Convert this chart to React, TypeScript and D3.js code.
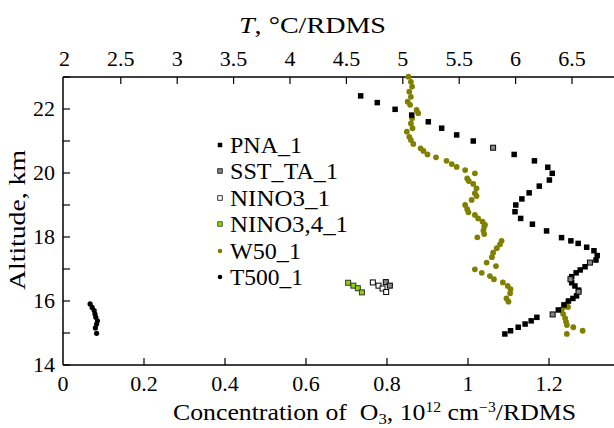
import React from "react";
import * as d3 from "d3";

// [O3 concentration, altitude km]
const pna: [number, number][] = [
  [0.735, 22.41], [0.776, 22.2], [0.82, 21.99], [0.861, 21.81], [0.902, 21.6], [0.935, 21.4],
  [0.972, 21.19], [1.013, 21.0], [1.114, 20.58], [1.164, 20.38], [1.197, 20.18], [1.208, 19.99],
  [1.201, 19.78], [1.176, 19.59], [1.151, 19.38], [1.133, 19.19], [1.118, 19.0], [1.116, 18.79],
  [1.13, 18.58], [1.159, 18.4], [1.194, 18.19], [1.231, 17.98], [1.254, 17.88], [1.272, 17.8],
  [1.293, 17.68], [1.311, 17.57], [1.319, 17.42], [1.316, 17.28], [1.289, 17.07], [1.277, 16.97],
  [1.267, 16.88], [1.256, 16.76], [1.256, 16.57], [1.264, 16.47], [1.273, 16.34], [1.268, 16.16],
  [1.259, 16.08], [1.248, 16.0], [1.237, 15.88], [1.223, 15.72], [1.17, 15.49], [1.156, 15.38],
  [1.141, 15.28], [1.124, 15.18], [1.105, 15.07], [1.091, 14.97],
];
const sstTa: [number, number][] = [
  [1.062, 20.79], [1.301, 17.2], [1.253, 16.68], [1.273, 16.29], [1.209, 15.58],
  [0.797, 16.59], [0.807, 16.48],
];
const nino3: [number, number][] = [
  [0.765, 16.58], [0.779, 16.48], [0.789, 16.39], [0.798, 16.28],
];
const nino34: [number, number][] = [
  [0.704, 16.57], [0.717, 16.48], [0.728, 16.4], [0.738, 16.27],
];
const w50: [number, number][] = [
  [0.853, 23.01], [0.859, 22.85], [0.862, 22.7], [0.855, 22.54], [0.859, 22.38], [0.851, 22.23],
  [0.857, 22.13], [0.873, 21.97], [0.877, 21.87], [0.862, 21.71], [0.859, 21.55], [0.863, 21.4],
  [0.849, 21.29], [0.855, 21.13], [0.859, 21.03], [0.865, 20.91], [0.883, 20.77], [0.89, 20.69],
  [0.9, 20.58], [0.921, 20.49], [0.947, 20.38], [0.96, 20.28], [0.972, 20.19], [0.993, 20.09],
  [1.017, 19.99], [0.998, 19.83], [1.002, 19.75], [1.013, 19.66], [1.021, 19.52], [1.017, 19.37],
  [1.021, 19.28], [1.009, 19.16], [0.993, 19.0], [0.998, 18.87], [1.001, 18.77], [1.017, 18.69],
  [1.025, 18.58], [1.036, 18.48], [1.042, 18.38], [1.04, 18.32], [1.038, 18.2], [1.04, 18.09],
  [1.023, 17.99], [1.083, 17.88], [1.079, 17.77], [1.071, 17.65], [1.062, 17.51], [1.059, 17.37],
  [1.046, 17.2], [1.069, 17.09], [1.017, 16.99], [1.034, 16.88], [1.054, 16.78], [1.064, 16.68],
  [1.086, 16.58], [1.098, 16.47], [1.105, 16.37], [1.104, 16.24], [1.095, 16.08], [1.1, 15.98],
  [1.244, 15.91], [1.247, 15.81], [1.237, 15.82], [1.231, 15.72], [1.235, 15.59], [1.24, 15.46],
  [1.242, 15.35], [1.244, 15.25], [1.26, 15.18], [1.283, 15.07], [1.244, 14.97],
];
const t500: [number, number][] = [
  [0.067, 15.91], [0.072, 15.8], [0.077, 15.7], [0.079, 15.59], [0.081, 15.49],
  [0.085, 15.38], [0.083, 15.28], [0.08, 15.16], [0.083, 14.99],
];

const bottomTicks = [0, 0.2, 0.4, 0.6, 0.8, 1, 1.2];
const topTicks = [2, 2.5, 3, 3.5, 4, 4.5, 5, 5.5, 6, 6.5];
const leftTicks = [14, 15, 16, 17, 18, 19, 20, 21, 22, 23];
const leftLabels = [14, 16, 18, 20, 22];
const legendNames = ["PNA_1", "SST_TA_1", "NINO3_1", "NINO3,4_1", "W50_1", "T500_1"];

const FONT = "Liberation Serif, DejaVu Serif, serif";

export default function App() {
  const W = 614, H = 428;
  const left = 63, top = 77, bottom = 365;
  const x = d3.scaleLinear().domain([0, 1.4]).range([left, left + 1.4 * 405]);
  const xt = d3.scaleLinear().domain([2, 7]).range([64.4, 64.4 + 5 * 112.8]);
  const y = d3.scaleLinear().domain([14, 23]).range([bottom, top]);
  const right = W + 5;

  const sq = (d: [number, number], i: number, s: number, fill: string, stroke: string, sw: number) => (
    <rect key={i} x={x(d[0]) - s / 2} y={y(d[1]) - s / 2} width={s} height={s}
      fill={fill} stroke={stroke} strokeWidth={sw} />
  );

  const legendY = [145, 171, 198, 224, 251, 277];
  const legendW = [72, 108, 100, 118, 71, 73];
  const legendMarker = (i: number) => {
    const cy = legendY[i];
    const cx = 220;
    const s = 4.5;
    if (i === 0) return <rect x={cx - s / 2} y={cy - s / 2} width={s} height={s} fill="#000" />;
    if (i === 1) return <rect x={cx - s / 2} y={cy - s / 2} width={s} height={s} fill="#888" stroke="#000" strokeWidth={0.8} />;
    if (i === 2) return <rect x={cx - s / 2} y={cy - s / 2} width={s} height={s} fill="#fff" stroke="#000" strokeWidth={0.8} />;
    if (i === 3) return <rect x={cx - s / 2} y={cy - s / 2} width={s} height={s} fill="#8fd400" stroke="#333" strokeWidth={0.8} />;
    if (i === 4) return <circle cx={cx} cy={cy} r={2.3} fill="#808000" />;
    return <circle cx={cx} cy={cy} r={2.3} fill="#000" />;
  };

  return (
    <svg width={W} height={H} style={{ position: "absolute", left: 0, top: 0, background: "#fff", fontFamily: FONT }}>
      <rect width={W} height={H} fill="#fff" />
      {/* axes lines */}
      <line x1={left} y1={top} x2={left} y2={bottom} stroke="#000" strokeWidth={1.5} />
      <line x1={left} y1={bottom} x2={right} y2={bottom} stroke="#000" strokeWidth={1.5} />
      <line x1={left} y1={top} x2={right} y2={top} stroke="#000" strokeWidth={1.5} />
      {/* left ticks */}
      {leftTicks.map((t) => (
        <line key={"lt" + t} x1={left} x2={left + 7} y1={y(t)} y2={y(t)} stroke="#000" strokeWidth={1.2} />
      ))}
      {leftLabels.map((t) => (
        <text key={"ll" + t} x={55} y={y(t) + 7} textAnchor="end" fontSize={22}>{t}</text>
      ))}
      {/* bottom ticks */}
      {bottomTicks.map((t) => (
        <g key={"bt" + t}>
          {t > 0 && <line x1={x(t)} x2={x(t)} y1={bottom} y2={bottom - 7} stroke="#000" strokeWidth={1.2} />}
          <text x={x(t)} y={391} textAnchor="middle" fontSize={22}>{t}</text>
        </g>
      ))}
      {/* top ticks */}
      {topTicks.map((t) => (
        <g key={"tt" + t}>
          {t > 2 && <line x1={xt(t)} x2={xt(t)} y1={top} y2={top + 7} stroke="#000" strokeWidth={1.2} />}
          <text x={xt(t)} y={66} textAnchor="middle" fontSize={22}>{t}</text>
        </g>
      ))}
      {/* titles */}
      <text x={239} y={33} fontSize={24} textLength={147} lengthAdjust="spacingAndGlyphs">
        <tspan fontStyle="italic">T</tspan>, °C/RDMS
      </text>
      <text transform="translate(25,290) rotate(-90)" fontSize={23.5} textLength={140} lengthAdjust="spacingAndGlyphs">
        Altitude, km
      </text>
      <text x={173} y={420} fontSize={23} textLength={403} lengthAdjust="spacingAndGlyphs">
        Concentration of{"\u00A0\u00A0"}O<tspan fontSize={15} dy={4}>3</tspan>
        <tspan dy={-4}>, 10</tspan><tspan fontSize={14} dy={-8}>12</tspan>
        <tspan dy={8}>{"\u00A0"}cm</tspan><tspan fontSize={14} dy={-8}>−3</tspan>
        <tspan dy={8}>/RDMS</tspan>
      </text>
      {/* data */}
      <g>
        {w50.map((d, i) => <circle key={"w" + i} cx={x(d[0])} cy={y(d[1])} r={2.9} fill="#808000" />)}
        {pna.map((d, i) => sq(d, i, 5.5, "#000", "none", 0))}
        {sstTa.map((d, i) => sq(d, i, 5, "#888", "#000", 1))}
        {nino3.map((d, i) => sq(d, i, 5, "#fff", "#000", 1))}
        {nino34.map((d, i) => sq(d, i, 5, "#8fd400", "#333", 1))}
        {t500.map((d, i) => <circle key={"t" + i} cx={x(d[0])} cy={y(d[1])} r={2.6} fill="#000" />)}
      </g>
      {/* legend */}
      {legendNames.map((n, i) => (
        <g key={n}>
          {legendMarker(i)}
          <text x={230} y={legendY[i] + 7.5} fontSize={23} textLength={legendW[i]} lengthAdjust="spacingAndGlyphs">{n}</text>
        </g>
      ))}
    </svg>
  );
}
